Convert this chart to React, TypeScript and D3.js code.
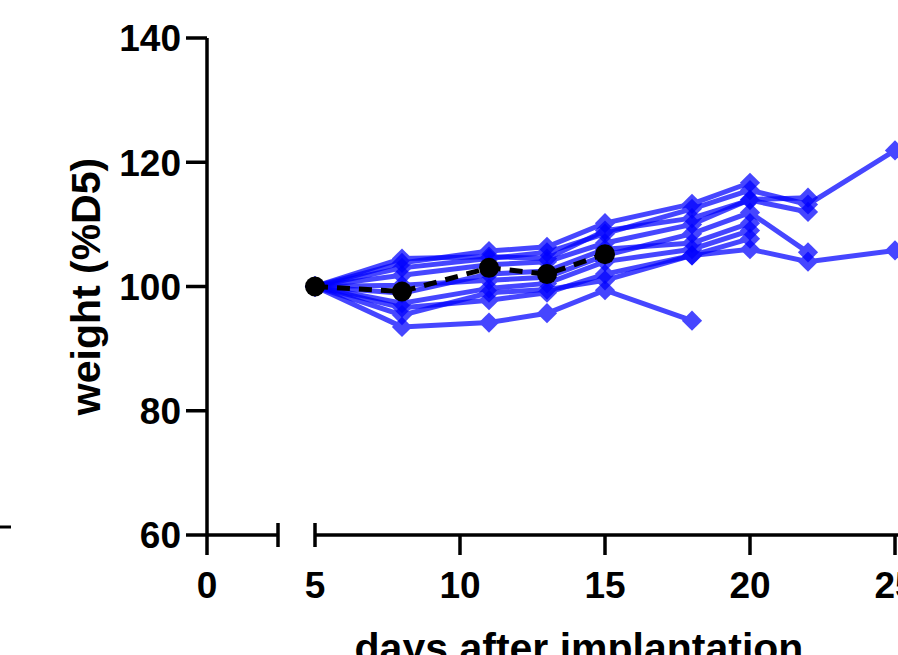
import { useEffect, useRef } from "react";
import * as d3 from "d3";

// days on the right segment of the broken x axis
const days = [5, 8, 11, 13, 15, 18, 20, 22, 25];

// individual mice, weight as % of day 5 (null = no measurement)
const mouseA = [100, 93.5, 94.2, 95.7, 99.4, 94.5, null, null, null];
const mouseB = [100, 96.6, 97.8, 99, 102, 105, 106, 104, 105.8];
const mouseC = [100, 103.8, 105.7, 106.4, 110.2, 113.3, 116.7, null, null];
const mouseD = [100, 103, 104.5, 105.5, 108.5, 112.5, 115.5, 113.2, 121.9];
const mouseE = [100, 101.8, 103.5, 104, 107, 110, 114, 114.3, null];
const mouseF = [100, 100.2, 101, 101.5, 105, 108.5, 111.9, 105.5, null];
const mouseG = [100, 98.9, 102, 102.5, 106, 107, 110.2, null, null];
const mouseH = [100, 97.3, 99.7, 100.5, 104, 106, 109, null, null];
const mouseI = [100, 95.4, 99, 99.5, 101, 105, 107.7, null, null];
const mouseJ = [100, 104.5, 104.8, 104.5, 109, 111, 113.9, 112, null];
const mice = [mouseA, mouseB, mouseC, mouseD, mouseE, mouseF, mouseG, mouseH, mouseI, mouseJ];

// group mean (dashed black)
const meanDays = [5, 8, 11, 13, 15];
const meanValues = [100, 99.2, 103, 102, 105.2];

const yTicks = [60, 80, 100, 120, 140];
const xTicksLeft = [0];
const xTicksRight = [5, 10, 15, 20, 25];

const W = 898;
const H = 655;
const FONT = "'Liberation Sans', Arial, Helvetica, sans-serif";

export default function App() {
  const svgRef = useRef<SVGSVGElement | null>(null);

  useEffect(() => {
    const svg = d3.select(svgRef.current);
    svg.selectAll("*").remove();

    const y = d3.scaleLinear().domain([60, 140]).range([535, 38]);
    const xLeft = d3.scaleLinear().domain([0, 2.45]).range([207, 278]);
    const x = d3.scaleLinear().domain([5, 25]).range([315, 895]);
    const axisY = y(60);

    // stray mark from neighbouring panel
    svg.append("line")
      .attr("x1", 0).attr("x2", 11)
      .attr("y1", axisY - 8).attr("y2", axisY - 8)
      .attr("stroke", "#000").attr("stroke-width", 3);

    // y axis
    const ya = svg.append("g");
    ya.append("line")
      .attr("x1", 207).attr("x2", 207)
      .attr("y1", y(140)).attr("y2", axisY + 20)
      .attr("stroke", "#000").attr("stroke-width", 3.5);
    ya.selectAll("line.tick")
      .data(yTicks)
      .join("line")
      .attr("class", "tick")
      .attr("x1", 186).attr("x2", 207)
      .attr("y1", d => y(d)).attr("y2", d => y(d))
      .attr("stroke", "#000").attr("stroke-width", 3.5);
    ya.selectAll("text")
      .data(yTicks)
      .join("text")
      .attr("x", 181)
      .attr("y", d => y(d))
      .attr("dy", "0.36em")
      .attr("text-anchor", "end")
      .attr("font-family", FONT)
      .attr("font-weight", "bold")
      .attr("font-size", 37)
      .text(d => d);

    // x axis, left piece
    const xa = svg.append("g");
    xa.append("line")
      .attr("x1", 207).attr("x2", xLeft(2.45))
      .attr("y1", axisY).attr("y2", axisY)
      .attr("stroke", "#000").attr("stroke-width", 3.5);
    xa.append("line")
      .attr("x1", xLeft(2.45)).attr("x2", xLeft(2.45))
      .attr("y1", axisY - 12).attr("y2", axisY + 12)
      .attr("stroke", "#000").attr("stroke-width", 3.5);
    xa.selectAll("text.left")
      .data(xTicksLeft)
      .join("text")
      .attr("class", "left")
      .attr("x", d => xLeft(d))
      .attr("y", 598)
      .attr("text-anchor", "middle")
      .attr("font-family", FONT)
      .attr("font-weight", "bold")
      .attr("font-size", 37)
      .text(d => d);

    // x axis, right piece
    xa.append("line")
      .attr("x1", x(5)).attr("x2", W + 10)
      .attr("y1", axisY).attr("y2", axisY)
      .attr("stroke", "#000").attr("stroke-width", 3.5);
    xa.append("line")
      .attr("x1", x(5)).attr("x2", x(5))
      .attr("y1", axisY - 12).attr("y2", axisY + 12)
      .attr("stroke", "#000").attr("stroke-width", 3.5);
    xa.selectAll("line.tick")
      .data(xTicksRight.slice(1))
      .join("line")
      .attr("class", "tick")
      .attr("x1", d => x(d)).attr("x2", d => x(d))
      .attr("y1", axisY).attr("y2", axisY + 20)
      .attr("stroke", "#000").attr("stroke-width", 3.5);
    xa.selectAll("text.right")
      .data(xTicksRight)
      .join("text")
      .attr("class", "right")
      .attr("x", d => x(d))
      .attr("y", 598)
      .attr("text-anchor", "middle")
      .attr("font-family", FONT)
      .attr("font-weight", "bold")
      .attr("font-size", 37)
      .text(d => d);

    // axis titles
    svg.append("text")
      .attr("transform", `translate(100,${y(100)}) rotate(-90)`)
      .attr("text-anchor", "middle")
      .attr("font-family", FONT)
      .attr("font-weight", "bold")
      .attr("font-size", 41)
      .text("weight (%D5)");
    svg.append("text")
      .attr("x", 579)
      .attr("y", 662)
      .attr("text-anchor", "middle")
      .attr("font-family", FONT)
      .attr("font-weight", "bold")
      .attr("font-size", 41)
      .text("days after implantation");

    // individual mice
    const line = d3.line<[number, number | null]>()
      .defined(d => d[1] != null)
      .x(d => x(d[0]))
      .y(d => y(d[1] as number));
    const diamond = d3.symbol().type(d3.symbolDiamond2).size(260);

    const mg = svg.append("g");
    mice.forEach(m => {
      const pts = days.map((d, i) => [d, m[i]] as [number, number | null]);
      const g = mg.append("g").attr("opacity", 0.72);
      g.append("path")
        .attr("d", line(pts))
        .attr("fill", "none")
        .attr("stroke", "#0000ff")
        .attr("stroke-width", 5);
      g.selectAll("path.pt")
        .data(pts.filter(p => p[1] != null))
        .join("path")
        .attr("class", "pt")
        .attr("transform", p => `translate(${x(p[0])},${y(p[1] as number)})`)
        .attr("d", diamond)
        .attr("fill", "#0000ff");
    });

    // mean
    const meanPts = meanDays.map((d, i) => [d, meanValues[i]] as [number, number]);
    svg.append("path")
      .attr("d", d3.line<[number, number]>().x(d => x(d[0])).y(d => y(d[1]))(meanPts))
      .attr("fill", "none")
      .attr("stroke", "#000")
      .attr("stroke-width", 5)
      .attr("stroke-dasharray", "13 9");
    svg.append("g")
      .selectAll("circle")
      .data(meanPts)
      .join("circle")
      .attr("cx", d => x(d[0]))
      .attr("cy", d => y(d[1]))
      .attr("r", 10)
      .attr("fill", "#000");
  }, []);

  return (
    <svg
      ref={svgRef}
      width={W}
      height={H}
      style={{ position: "absolute", left: 0, top: 0, background: "#fff" }}
    />
  );
}
